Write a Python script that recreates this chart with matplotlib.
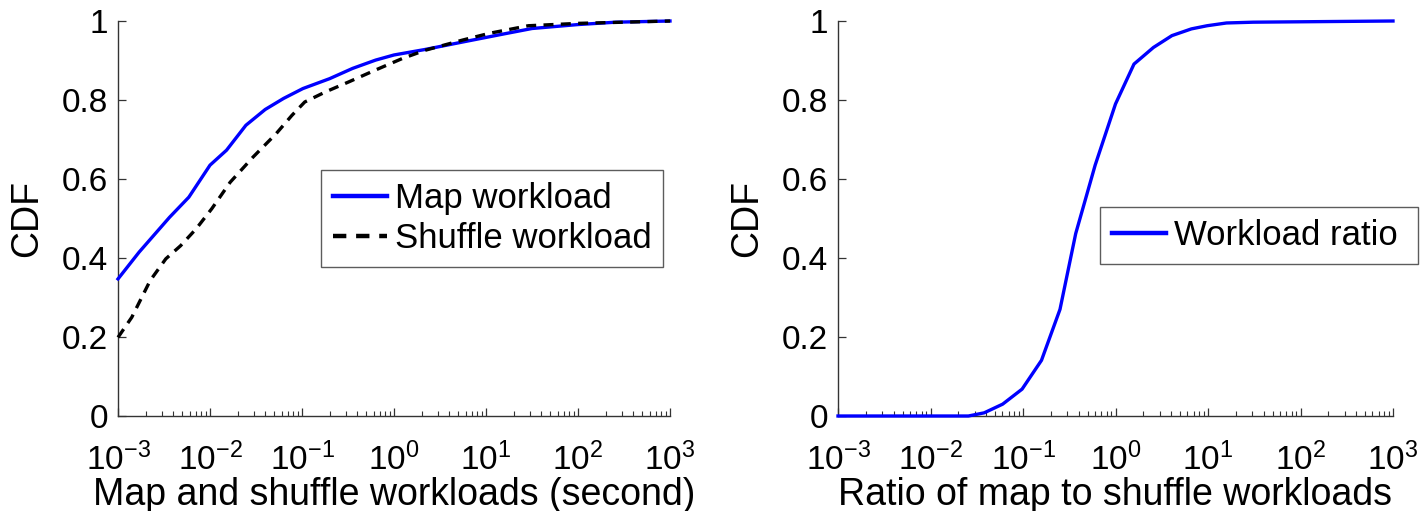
import numpy as np
import matplotlib
matplotlib.use("Agg")
import matplotlib.pyplot as plt
from matplotlib.ticker import LogLocator, NullFormatter, FixedLocator

plt.rcParams['font.family'] = ['Liberation Sans', 'DejaVu Sans']
plt.rcParams['mathtext.fontset'] = 'custom'
plt.rcParams['mathtext.rm'] = 'Liberation Sans'
plt.rcParams['mathtext.it'] = 'Liberation Sans'

# CDF of map and shuffle workloads (log10 of seconds, cumulative fraction)
map_logx = [-3.0, -2.77, -2.44, -2.23, -2.0, -1.82, -1.61, -1.40, -1.20, -0.99,
            -0.70, -0.45, -0.20, 0.0, 0.34, 0.75, 1.21, 1.50, 2.0, 2.41, 3.0]
map_cdf = [0.347, 0.415, 0.503, 0.554, 0.635, 0.673, 0.736, 0.776, 0.804, 0.829,
           0.854, 0.880, 0.901, 0.914, 0.928, 0.947, 0.968, 0.981, 0.991, 0.997, 1.0]

shuffle_logx = [-3.0, -2.85, -2.65, -2.48, -2.32, -2.15, -1.98, -1.78, -1.53, -1.28,
                -1.11, -0.97, -0.74, -0.49, -0.20, 0.09, 0.34, 0.75, 1.04, 1.46, 2.0, 3.0]
shuffle_cdf = [0.199, 0.25, 0.343, 0.398, 0.431, 0.474, 0.525, 0.592, 0.656, 0.715,
               0.761, 0.795, 0.821, 0.846, 0.876, 0.905, 0.926, 0.952, 0.969, 0.988, 0.994, 1.0]

# CDF of the map-to-shuffle workload ratio
ratio_logx = [-3.0, -1.59, -1.42, -1.22, -1.01, -0.80, -0.60, -0.43, -0.22, 0.0,
              0.20, 0.41, 0.61, 0.82, 0.99, 1.20, 1.49, 3.0]
ratio_cdf = [0.0, 0.0, 0.008, 0.03, 0.068, 0.141, 0.27, 0.462, 0.635, 0.79,
             0.891, 0.933, 0.963, 0.98, 0.988, 0.995, 0.997, 1.0]

xticks = [1e-3, 1e-2, 1e-1, 1e0, 1e1, 1e2, 1e3]
xticklabels = [r'$10^{-3}$', r'$10^{-2}$', r'$10^{-1}$', r'$10^{0}$',
               r'$10^{1}$', r'$10^{2}$', r'$10^{3}$']
yticks = [0, 0.2, 0.4, 0.6, 0.8, 1]
yticklabels = ['0', '0.2', '0.4', '0.6', '0.8', '1']

W, H = 1420, 511
fig = plt.figure(figsize=(W / 100, H / 100), dpi=100)
ax1 = fig.add_axes([118 / W, 1 - 416 / H, (670 - 118) / W, (416 - 21) / H])
ax2 = fig.add_axes([838 / W, 1 - 416 / H, (1393 - 838) / W, (416 - 21) / H])

AXIS_GREY = '#333333'


def style(ax, xlabel):
    ax.set_xscale('log')
    ax.set_xlim(1e-3, 1e3)
    ax.set_ylim(0, 1)
    ax.xaxis.set_major_locator(FixedLocator(xticks))
    ax.set_xticklabels(xticklabels)
    ax.xaxis.set_minor_locator(LogLocator(base=10, subs=np.arange(2, 10), numticks=20))
    ax.xaxis.set_minor_formatter(NullFormatter())
    ax.set_yticks(yticks)
    ax.set_yticklabels(yticklabels)
    for s in ('top', 'right'):
        ax.spines[s].set_visible(False)
    for s in ('left', 'bottom'):
        ax.spines[s].set_linewidth(1.0)
        ax.spines[s].set_color(AXIS_GREY)
    ax.tick_params(axis='both', which='major', direction='in', length=6, width=0.9,
                   labelsize=24, colors=AXIS_GREY, labelcolor='black')
    ax.tick_params(axis='x', which='minor', direction='in', length=3.5, width=0.8,
                   colors=AXIS_GREY)
    ax.tick_params(axis='x', which='major', pad=19)
    ax.tick_params(axis='y', which='major', pad=7)
    ax.set_xlabel(xlabel, fontsize=27, labelpad=0)
    ax.set_ylabel('CDF', fontsize=27, labelpad=12)


def boxed_legend(ax, anchor):
    leg = ax.legend(loc='lower left', bbox_to_anchor=anchor, mode='expand',
                    fontsize=25, frameon=True, fancybox=False,
                    handlelength=1.55, handletextpad=0.22, borderpad=0.35,
                    labelspacing=0.2, borderaxespad=0)
    leg.get_frame().set_edgecolor(AXIS_GREY)
    leg.get_frame().set_linewidth(1.0)
    for line in leg.get_lines():
        line.set_linewidth(3.2)
    return leg


ax1.plot(10 ** np.array(map_logx), map_cdf, color='#0000ff', lw=2.4,
         label='Map workload', clip_on=False, zorder=3)
ax1.plot(10 ** np.array(shuffle_logx), shuffle_cdf, color='black', lw=2.4,
         ls=(0, (3, 2.2)), label='Shuffle workload', clip_on=False, zorder=3)
style(ax1, 'Map and shuffle workloads (second)')
boxed_legend(ax1, (0.368, 0.377, 0.619, 0.238))

ax2.plot(10 ** np.array(ratio_logx), ratio_cdf, color='#0000ff', lw=2.4,
         label='Workload ratio', clip_on=False, zorder=3)
style(ax2, 'Ratio of map to shuffle workloads')
boxed_legend(ax2, (0.472, 0.385, 0.573, 0.137))

fig.savefig('out.png', dpi=100, facecolor='white')
